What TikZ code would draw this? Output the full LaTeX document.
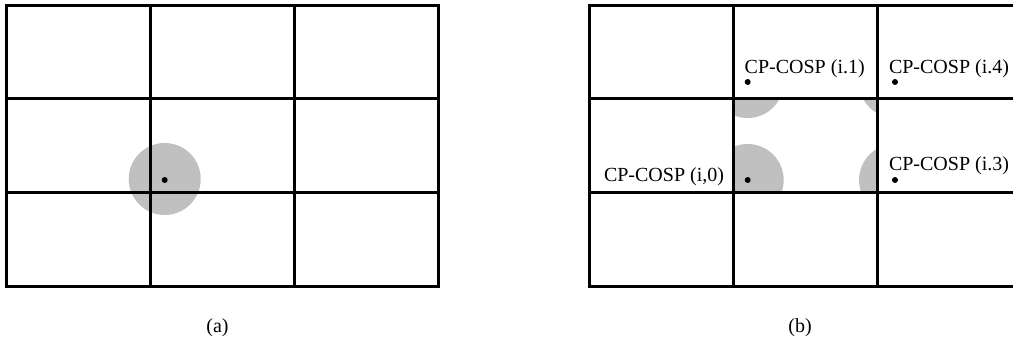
\documentclass[tikz,border=0pt]{standalone}
\usepackage{fontspec}
\setmainfont{Liberation Serif}
\definecolor{cover}{HTML}{C0C0C0}
\tikzset{
  gridline/.style={line width=3pt, line cap=rect},
  covercircle/.style={fill=cover, draw=none},
  dotmark/.style={circle, fill=black, inner sep=0pt, minimum size=6pt},
  lbl/.style={inner sep=0pt, font=\fontsize{20}{24}\selectfont},
}
\begin{document}
\begin{tikzpicture}[x=1pt,y=-1pt]
\useasboundingbox (0,0) rectangle (1013,342);
\clip (0,0) rectangle (1013,342);
% ---------- (a) ----------
\fill[cover] (164.7,179) circle (36);
\foreach \x in {6,150,294,438} \draw[gridline] (\x,6) -- (\x,286);
\foreach \y in {6,99,193,286} \draw[gridline] (6,\y) -- (438,\y);
\node[dotmark] (a0) at (164.7,180) {};
\node[lbl, anchor=base] (capa) at (217.5,332) {(a)};
% ---------- (b) ----------
\begin{scope}
  \clip (733.5,99) rectangle (877.5,193);
  \fill[cover] (747.7,180) circle (36);
  \fill[cover] (747.7,82) circle (36);
  \fill[cover] (895,82) circle (36);
  \fill[cover] (895,180) circle (36);
\end{scope}
\foreach \x in {589.5,733.5,877.5,1021.5} \draw[gridline] (\x,6) -- (\x,286);
\foreach \y in {6,99,193,286} \draw[gridline] (589.5,\y) -- (1021.5,\y);
\node[dotmark] (b0) at (747.7,180) {};
\node[dotmark] (b1) at (747.7,82) {};
\node[dotmark] (b4) at (895,82) {};
\node[dotmark] (b3) at (895,180) {};
\node[lbl, anchor=base west] (l1) at (744.5,74) {CP-COSP (i.1)};
\node[lbl, anchor=base west] (l4) at (888.8,74) {CP-COSP (i.4)};
\node[lbl, anchor=base west] (l3) at (888.8,171) {CP-COSP (i.3)};
\node[lbl, anchor=base west] (l0) at (603.8,182) {CP-COSP (i,0)};
\node[lbl, anchor=base] (capb) at (800,332) {(b)};
\end{tikzpicture}
\end{document}
